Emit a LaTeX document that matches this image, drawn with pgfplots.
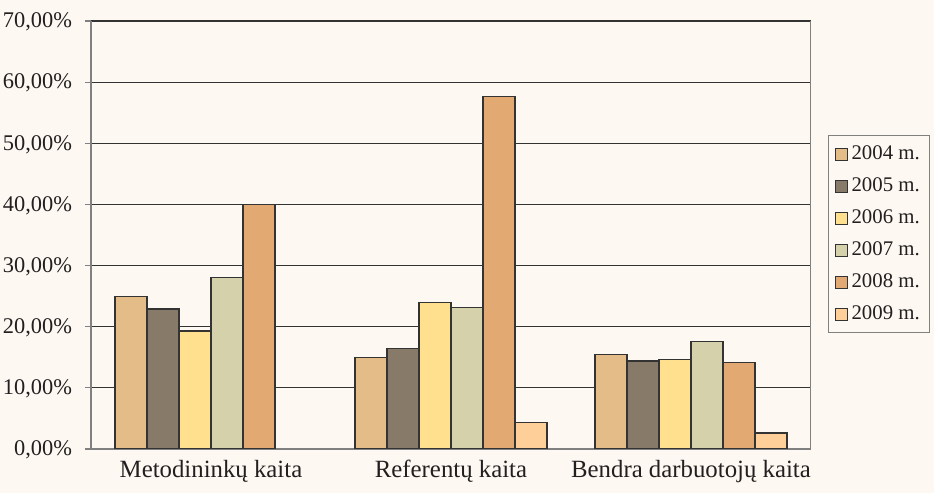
\documentclass[border=0pt]{standalone}
\usepackage{pgfplots}
\pgfplotsset{compat=1.18}
\usepackage{fontspec}
\setmainfont{Liberation Serif}

\definecolor{bg}{HTML}{FDF9F2}
\definecolor{txt}{HTML}{231F20}
\definecolor{c2004}{HTML}{E4BC88}
\definecolor{c2005}{HTML}{877A69}
\definecolor{c2006}{HTML}{FFE08F}
\definecolor{c2007}{HTML}{D4D1AB}
\definecolor{c2008}{HTML}{E3A972}
\definecolor{c2009}{HTML}{FFCF9A}

\begin{document}
\begin{tikzpicture}
\fill[bg] (0,0) rectangle (467pt,246.5pt);
\useasboundingbox (0,0) rectangle (467pt,246.5pt);
\begin{axis}[
    at={(45.5pt,22pt)}, anchor=south west,
    scale only axis,
    width=360pt, height=214pt,
    ybar=0pt, bar width=16pt,
    xmin=-0.5, xmax=2.5,
    ymin=0, ymax=70,
    xtick={0,1,2},
    xticklabels={Metodininkų kaita, Referentų kaita, Bendra darbuotojų kaita},
    x tick style={draw=none},
    extra x ticks={0.5,1.5,2.5},
    extra x tick labels={},
    extra x tick style={tick align=outside, major tick length=4pt, tick style={draw=gray, line width=0.6pt}},
    ytick={0,10,...,70},
    yticklabels={{0,00\%},{10,00\%},{20,00\%},{30,00\%},{40,00\%},{50,00\%},{60,00\%},{70,00\%}},
    y tick style={draw=gray, line width=0.6pt},
    tick align=outside, major tick length=3pt,
    ymajorgrids=true,
    grid style={black!80, line width=0.6pt},
    axis line style={gray, line width=0.7pt},
    axis x line*=bottom,
    axis y line*=left,
    yticklabel style={font=\fontsize{11.2}{13}\selectfont, text=txt, xshift=-3pt, yshift=-0.5pt},
    xticklabel style={font=\fontsize{12.4}{15}\selectfont, text=txt, yshift=1pt},
    legend style={
        at={(1.0236,0.7336)}, anchor=north west,
        draw=gray, line width=0.6pt, fill=bg,
        font=\fontsize{10.4}{12}\selectfont, text=txt,
        row sep=3.6pt, inner xsep=3pt, inner ysep=3pt,
        cells={anchor=west},
    },
    legend image code/.code={\draw[#1, draw=black!80, line width=0.5pt] (0pt,-3pt) rectangle (6pt,3pt);},
    every axis plot/.append style={draw=black!80, line width=0.6pt},
]
\addplot[fill=c2004] coordinates {(0,24.9) (1,14.9) (2,15.4)};
\addplot[fill=c2005] coordinates {(0,22.9) (1,16.4) (2,14.4)};
\addplot[fill=c2006] coordinates {(0,19.3) (1,23.9) (2,14.7)};
\addplot[fill=c2007] coordinates {(0,28.0) (1,23.1) (2,17.6)};
\addplot[fill=c2008] coordinates {(0,40.0) (1,57.6) (2,14.2)};
\addplot[fill=c2009] coordinates {(1,4.3) (2,2.6)};
\legend{2004 m.,2005 m.,2006 m.,2007 m.,2008 m.,2009 m.}
\draw[gray, line width=0.7pt] (rel axis cs:1,0) -- (rel axis cs:1,1);
\end{axis}
\end{tikzpicture}
\end{document}
